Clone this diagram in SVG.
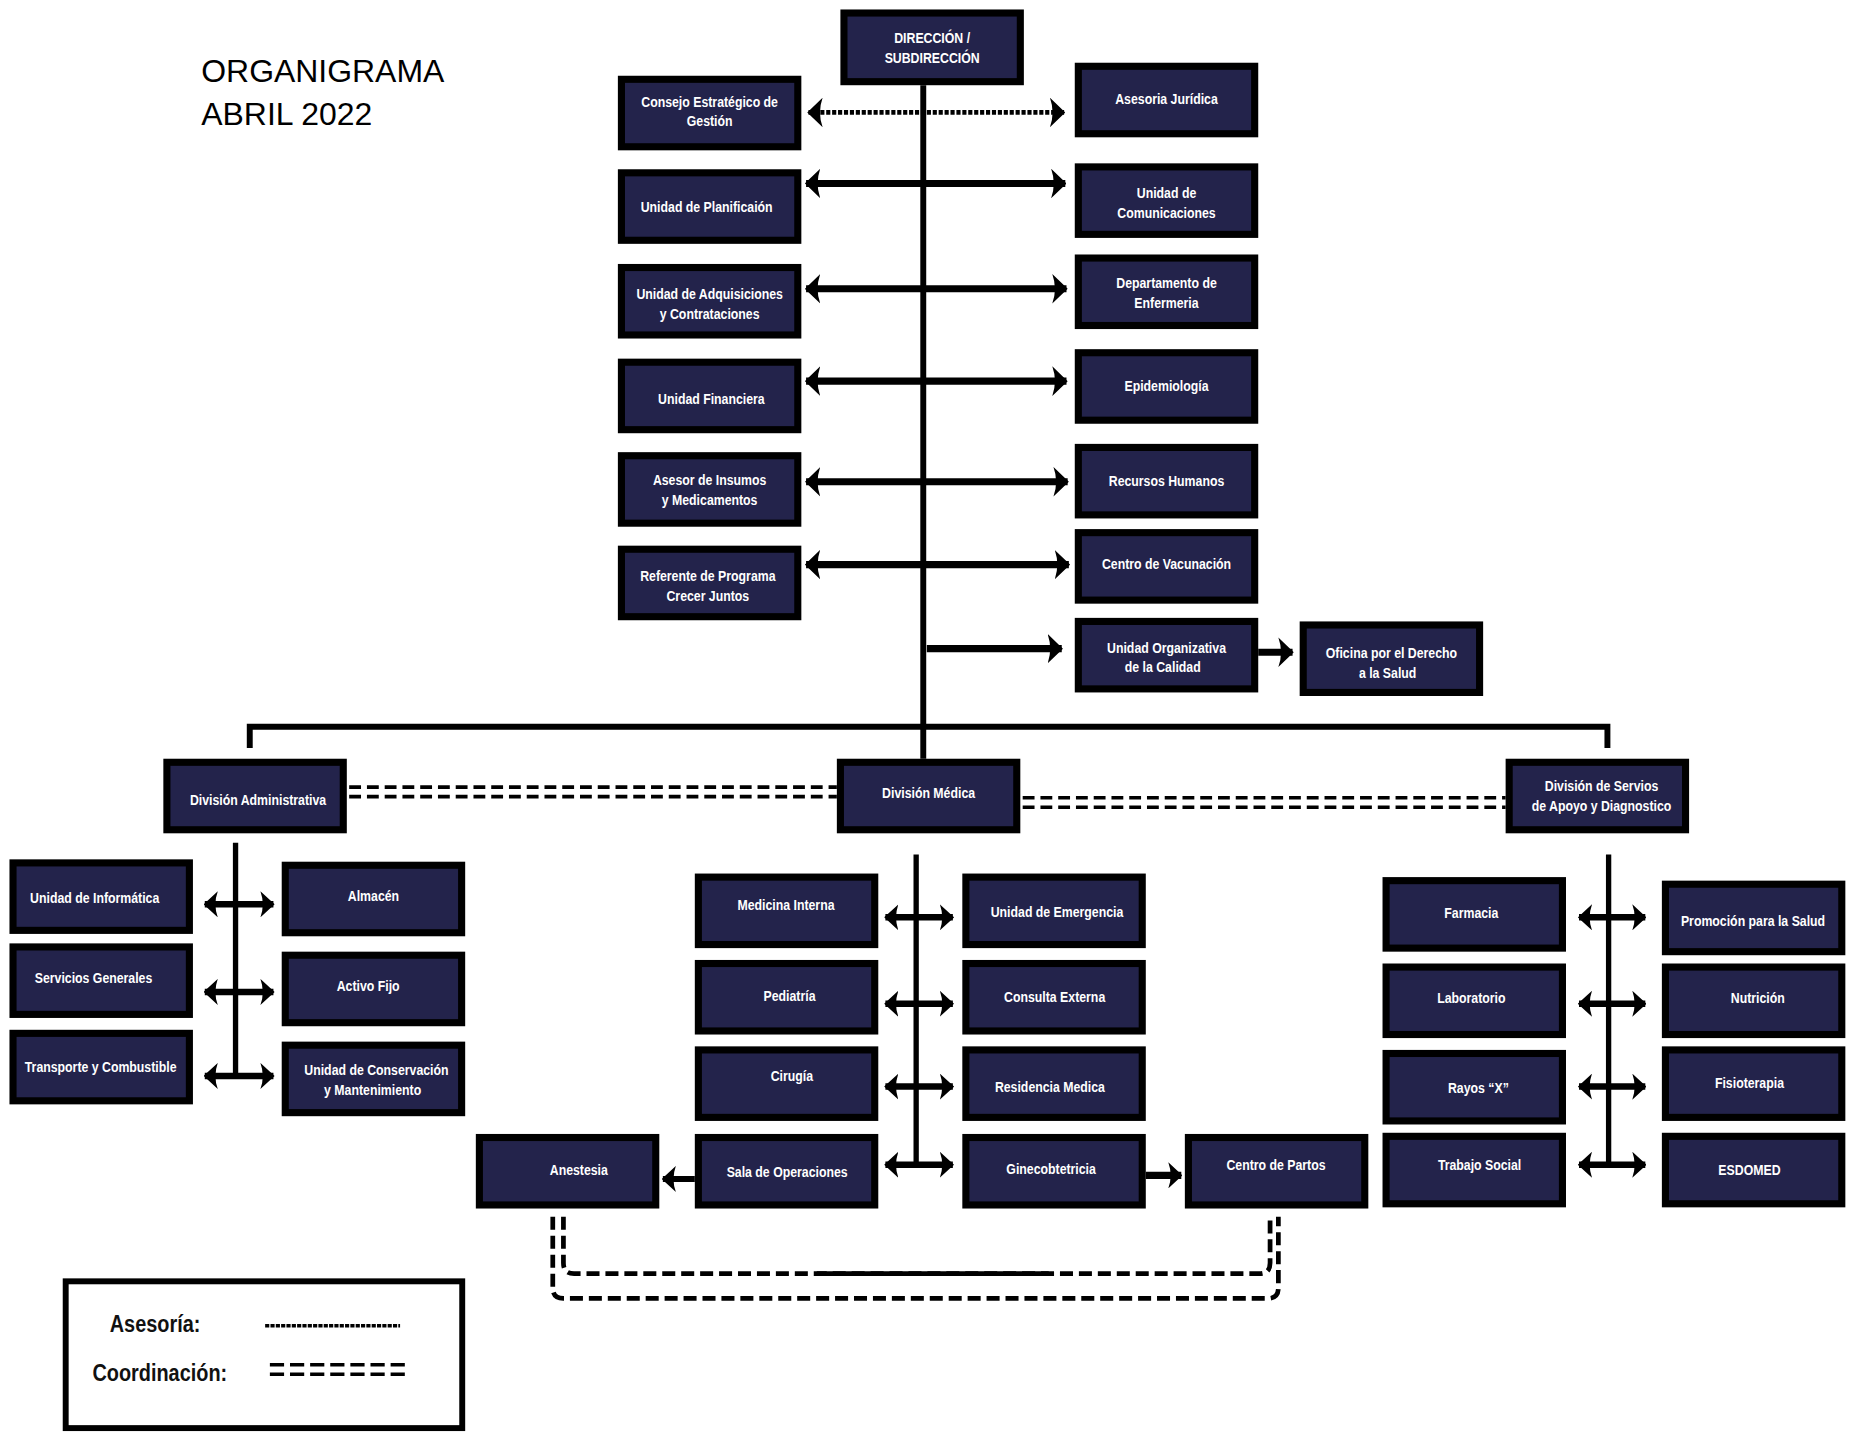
<svg xmlns="http://www.w3.org/2000/svg" width="1856" height="1432" viewBox="0 0 1856 1432">
<style>
.bx{fill:#23234b;stroke:#000;stroke-width:6}
.t{font-family:"Liberation Sans",Arial,sans-serif;font-weight:bold;font-size:13px;fill:#fff;text-anchor:middle}
.lg{font-family:"Liberation Sans",Arial,sans-serif;font-weight:bold;font-size:20.5px;fill:#111;text-anchor:middle}
.title{font-family:"Liberation Sans",Arial,sans-serif;font-size:27px;fill:#000}
.ln{fill:none;stroke:#000;stroke-width:5}
.sub{fill:none;stroke:#000;stroke-width:4.5}
.ar{fill:none;stroke:#000;stroke-width:6;marker-end:url(#ah)}
.ar2{fill:none;stroke:#000;stroke-width:6;marker-start:url(#ah);marker-end:url(#ah)}
.ars{fill:none;stroke:#000;stroke-width:5.5;marker-start:url(#ahs);marker-end:url(#ahs)}
.ase{fill:none;stroke:#000;stroke-width:4;stroke-dasharray:3.5 1.5}
.co{fill:none;stroke:#000;stroke-width:3;stroke-dasharray:10 5}
.br{fill:none;stroke:#000;stroke-width:4;stroke-dasharray:11 5}
</style>
<defs>
<marker id="ah" viewBox="0 0 13 25" refX="12" refY="12.5" markerWidth="13" markerHeight="25" markerUnits="userSpaceOnUse" orient="auto-start-reverse"><path d="M13,12.5 L0,0 Q4.5,12.5 0,25 Z" fill="#000"/></marker>
<marker id="ahs" viewBox="0 0 12 22" refX="11" refY="11" markerWidth="12" markerHeight="22" markerUnits="userSpaceOnUse" orient="auto-start-reverse"><path d="M12,11 L0,0 Q4,11 0,22 Z" fill="#000"/></marker>
</defs>
<rect width="1856" height="1432" fill="#fff"/>
<g transform="scale(1.18367)">
<g id="title">
<text class="title" x="170" y="69">ORGANIGRAMA</text>
<text class="title" x="170" y="105.5">ABRIL 2022</text>
</g>
<g id="connectors">
<path class="ln" d="M780,72 V641"/>
<path class="ln" d="M211,632 V614 H1358 V632"/>
<path class="ase" d="M683,95 H899" marker-start="url(#ah)" marker-end="url(#ah)"/>
<path class="ar2" d="M681,155 H900"/>
<path class="ar2" d="M681,244 H901"/>
<path class="ar2" d="M681,322 H901"/>
<path class="ar2" d="M681,407 H902"/>
<path class="ar2" d="M681,477 H903"/>
<path class="ar" d="M783,548 H897"/>
<path class="ar" d="M1063,551 H1092"/>
<path class="co" d="M295,665 H707 M295,673 H707"/>
<path class="co" d="M864,674 H1272 M864,682 H1272"/>
<path class="sub" d="M199,712 V910"/>
<path class="ars" d="M173,764 H231"/>
<path class="ars" d="M173,838 H231"/>
<path class="ars" d="M173,909 H231"/>
<path class="sub" d="M774,722 V985"/>
<path class="ars" d="M748,775 H805"/>
<path class="ars" d="M748,848 H805"/>
<path class="ars" d="M748,918 H805"/>
<path class="ars" d="M748,984 H805"/>
<path class="sub" d="M1359,722 V985"/>
<path class="ars" d="M1334,775 H1390"/>
<path class="ars" d="M1334,848 H1390"/>
<path class="ars" d="M1334,918 H1390"/>
<path class="ars" d="M1334,984 H1390"/>
<path fill="none" stroke="#000" stroke-width="5" marker-end="url(#ahs)" d="M587,996 H560"/>
<path fill="none" stroke="#000" stroke-width="6" marker-end="url(#ahs)" d="M968,993 H998"/>
<path class="br" d="M476,1028 V1067 Q476,1076 485,1076 H1064 Q1073,1076 1073,1067 V1028"/>
<path class="br" d="M467,1028 V1088 Q467,1097 476,1097 H1071 Q1080,1097 1080,1088 V1028"/>
<path fill="none" stroke="#000" stroke-width="4" d="M690,1076 H886"/>
</g>
<g id="direccion"><rect class="bx" x="713" y="11" width="149" height="58"/><text class="t" transform="translate(787.5,36.5) scale(0.8 1)"><tspan x="0">DIRECCIÓN /</tspan><tspan x="0" dy="17">SUBDIRECCIÓN</tspan></text></g>
<g id="consejo"><rect class="bx" x="525" y="67" width="149" height="57"/><text class="t" transform="translate(599.5,90.5) scale(0.8 1)"><tspan x="0">Consejo Estratégico de</tspan><tspan x="0" dy="16">Gestión</tspan></text></g>
<g id="planificacion"><rect class="bx" x="525" y="146" width="149" height="57"/><text class="t" transform="translate(597,179.5) scale(0.8 1)">Unidad de Planificaión</text></g>
<g id="adquisiciones"><rect class="bx" x="525" y="226" width="149" height="57"/><text class="t" transform="translate(599.5,252.5) scale(0.8 1)"><tspan x="0">Unidad de Adquisiciones</tspan><tspan x="0" dy="17">y Contrataciones</tspan></text></g>
<g id="financiera"><rect class="bx" x="525" y="306" width="149" height="57"/><text class="t" transform="translate(601,341.5) scale(0.8 1)">Unidad Financiera</text></g>
<g id="insumos"><rect class="bx" x="525" y="385" width="149" height="57"/><text class="t" transform="translate(599.5,409.5) scale(0.8 1)"><tspan x="0">Asesor de Insumos</tspan><tspan x="0" dy="17">y Medicamentos</tspan></text></g>
<g id="referente"><rect class="bx" x="525" y="464" width="149" height="57"/><text class="t" transform="translate(598,490.5) scale(0.8 1)"><tspan x="0">Referente de Programa</tspan><tspan x="0" dy="17">Crecer Juntos</tspan></text></g>
<g id="juridica"><rect class="bx" x="911" y="56" width="149" height="57"/><text class="t" transform="translate(985.5,87.5) scale(0.8 1)">Asesoria Jurídica</text></g>
<g id="comunicaciones"><rect class="bx" x="911" y="141" width="149" height="57"/><text class="t" transform="translate(985.5,167.5) scale(0.8 1)"><tspan x="0">Unidad de</tspan><tspan x="0" dy="17">Comunicaciones</tspan></text></g>
<g id="enfermeria"><rect class="bx" x="911" y="218" width="149" height="57"/><text class="t" transform="translate(985.5,243.5) scale(0.8 1)"><tspan x="0">Departamento de</tspan><tspan x="0" dy="17">Enfermeria</tspan></text></g>
<g id="epidemiologia"><rect class="bx" x="911" y="298" width="149" height="57"/><text class="t" transform="translate(985.5,330.5) scale(0.8 1)">Epidemiología</text></g>
<g id="rrhh"><rect class="bx" x="911" y="378" width="149" height="57"/><text class="t" transform="translate(985.5,410.5) scale(0.8 1)">Recursos Humanos</text></g>
<g id="vacunacion"><rect class="bx" x="911" y="450" width="149" height="57"/><text class="t" transform="translate(985.5,480.5) scale(0.8 1)">Centro de Vacunación</text></g>
<g id="calidad"><rect class="bx" x="911" y="525" width="149" height="57"/><text class="t" transform="translate(985.5,551.5) scale(0.8 1)"><tspan x="0">Unidad Organizativa</tspan><tspan x="-4" dy="16">de la Calidad</tspan></text></g>
<g id="oficina"><rect class="bx" x="1101" y="528" width="149" height="57"/><text class="t" transform="translate(1175.5,555.5) scale(0.8 1)"><tspan x="0">Oficina por el Derecho</tspan><tspan x="-4" dy="17">a la Salud</tspan></text></g>
<g id="div-admin"><rect class="bx" x="141" y="644" width="149" height="57"/><text class="t" transform="translate(218,680.5) scale(0.8 1)">División Administrativa</text></g>
<g id="div-medica"><rect class="bx" x="710" y="644" width="149" height="57"/><text class="t" transform="translate(784.5,674.5) scale(0.8 1)">División Médica</text></g>
<g id="div-apoyo"><rect class="bx" x="1275" y="644" width="149" height="57"/><text class="t" transform="translate(1353,668.5) scale(0.8 1)"><tspan x="0">División de Servios</tspan><tspan x="0" dy="17">de Apoyo y Diagnostico</tspan></text></g>
<g id="informatica"><rect class="bx" x="11" y="729" width="149" height="57"/><text class="t" transform="translate(80,762.5) scale(0.8 1)">Unidad de Informática</text></g>
<g id="servicios"><rect class="bx" x="11" y="800" width="149" height="57"/><text class="t" transform="translate(79,830.5) scale(0.8 1)">Servicios Generales</text></g>
<g id="transporte"><rect class="bx" x="11" y="873" width="149" height="57"/><text class="t" transform="translate(85,905.5) scale(0.8 1)">Transporte y Combustible</text></g>
<g id="almacen"><rect class="bx" x="241" y="731" width="149" height="57"/><text class="t" transform="translate(315.5,761.5) scale(0.8 1)">Almacén</text></g>
<g id="activo"><rect class="bx" x="241" y="807" width="149" height="57"/><text class="t" transform="translate(311,837.5) scale(0.8 1)">Activo Fijo</text></g>
<g id="conservacion"><rect class="bx" x="241" y="883" width="149" height="57"/><text class="t" transform="translate(318,908.5) scale(0.8 1)"><tspan x="0">Unidad de Conservación</tspan><tspan x="-4" dy="17">y Mantenimiento</tspan></text></g>
<g id="medicina"><rect class="bx" x="590" y="741" width="149" height="57"/><text class="t" transform="translate(664,768.5) scale(0.8 1)">Medicina Interna</text></g>
<g id="pediatria"><rect class="bx" x="590" y="814" width="149" height="57"/><text class="t" transform="translate(667,845.5) scale(0.8 1)">Pediatría</text></g>
<g id="cirugia"><rect class="bx" x="590" y="887" width="149" height="57"/><text class="t" transform="translate(669,913.5) scale(0.8 1)">Cirugía</text></g>
<g id="sala"><rect class="bx" x="590" y="961" width="149" height="57"/><text class="t" transform="translate(665,994.5) scale(0.8 1)">Sala de Operaciones</text></g>
<g id="emergencia"><rect class="bx" x="816" y="741" width="149" height="57"/><text class="t" transform="translate(893,774.5) scale(0.8 1)">Unidad de Emergencia</text></g>
<g id="consulta"><rect class="bx" x="816" y="814" width="149" height="57"/><text class="t" transform="translate(891,846.5) scale(0.8 1)">Consulta Externa</text></g>
<g id="residencia"><rect class="bx" x="816" y="887" width="149" height="57"/><text class="t" transform="translate(887,922.5) scale(0.8 1)">Residencia Medica</text></g>
<g id="gineco"><rect class="bx" x="816" y="961" width="149" height="57"/><text class="t" transform="translate(888,991.5) scale(0.8 1)">Ginecobtetricia</text></g>
<g id="anestesia"><rect class="bx" x="405" y="961" width="149" height="57"/><text class="t" transform="translate(489,992.5) scale(0.8 1)">Anestesia</text></g>
<g id="partos"><rect class="bx" x="1004" y="961" width="149" height="57"/><text class="t" transform="translate(1078,988.5) scale(0.8 1)">Centro de Partos</text></g>
<g id="farmacia"><rect class="bx" x="1171" y="744" width="149" height="57"/><text class="t" transform="translate(1243,775.5) scale(0.8 1)">Farmacia</text></g>
<g id="laboratorio"><rect class="bx" x="1171" y="817" width="149" height="57"/><text class="t" transform="translate(1243,847.5) scale(0.8 1)">Laboratorio</text></g>
<g id="rayos"><rect class="bx" x="1171" y="890" width="149" height="57"/><text class="t" transform="translate(1249,923.5) scale(0.8 1)">Rayos “X”</text></g>
<g id="trabajo"><rect class="bx" x="1171" y="960" width="149" height="57"/><text class="t" transform="translate(1250,988.5) scale(0.8 1)">Trabajo Social</text></g>
<g id="promocion"><rect class="bx" x="1407" y="747" width="149" height="57"/><text class="t" transform="translate(1481,782.5) scale(0.8 1)">Promoción para la Salud</text></g>
<g id="nutricion"><rect class="bx" x="1407" y="817" width="149" height="57"/><text class="t" transform="translate(1485,847.5) scale(0.8 1)">Nutrición</text></g>
<g id="fisioterapia"><rect class="bx" x="1407" y="887" width="149" height="57"/><text class="t" transform="translate(1478,919.5) scale(0.8 1)">Fisioterapia</text></g>
<g id="esdomed"><rect class="bx" x="1407" y="960" width="149" height="57"/><text class="t" transform="translate(1478,992.5) scale(0.8 1)">ESDOMED</text></g>
<g id="legend">
<rect x="55.5" y="1082.5" width="335" height="124" fill="#fff" stroke="#000" stroke-width="5"/>
<text class="lg" transform="translate(131,1125) scale(0.82 1)">Asesoría:</text>
<text class="lg" transform="translate(135,1167) scale(0.82 1)">Coordinación:</text>
<path fill="none" stroke="#000" stroke-width="3" stroke-dasharray="3.5 1" d="M224,1120 H338"/>
<path fill="none" stroke="#000" stroke-width="3" stroke-dasharray="12 5" d="M228,1153 H342 M228,1161 H342"/>
</g>
</g>
</svg>
